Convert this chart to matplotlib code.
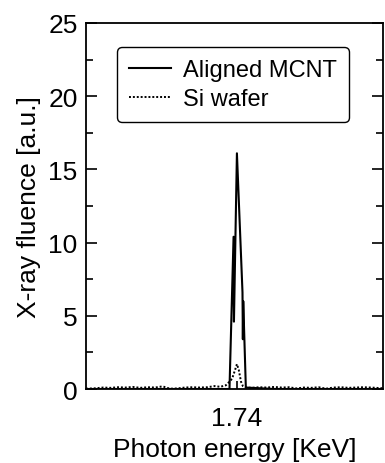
import matplotlib.pyplot as plt
from matplotlib.ticker import MultipleLocator, FixedLocator

plt.rcParams['font.family'] = ['Liberation Sans', 'DejaVu Sans']

# Aligned MCNT spectrum (photon energy in keV, fluence in a.u.)
mcnt_energy = [1.6994, 1.7000, 1.7100, 1.7200, 1.7300, 1.7380, 1.7391, 1.7392,
               1.7400, 1.7415, 1.7416, 1.7417, 1.7424, 1.7500, 1.7600, 1.7700, 1.7793]
mcnt_fluence = [0.0, 0.0, 0.0, 0.0, 0.0, 0.0, 10.4, 4.6,
                16.1, 6.6, 3.4, 6.0, 0.1, 0.0, 0.0, 0.0, 0.0]

# Si wafer spectrum
si_energy = [1.6994, 1.7020, 1.7040, 1.7060, 1.7080, 1.7100, 1.7120, 1.7140,
             1.7160, 1.7180, 1.7200, 1.7220, 1.7240, 1.7260, 1.7280, 1.7300,
             1.7320, 1.7340, 1.7355, 1.7370, 1.7378, 1.7387, 1.7395, 1.7400,
             1.7405, 1.7411, 1.7416, 1.7424, 1.7440, 1.7460, 1.7480, 1.7500,
             1.7520, 1.7540, 1.7560, 1.7580, 1.7600, 1.7620, 1.7640, 1.7660,
             1.7680, 1.7700, 1.7720, 1.7740, 1.7760, 1.7793]
si_fluence = [0.02, 0.05, 0.10, 0.08, 0.12, 0.10, 0.14, 0.08,
              0.12, 0.10, 0.18, 0.02, 0.04, 0.10, 0.12, 0.10,
              0.12, 0.20, 0.15, 0.25, 0.45, 0.70, 1.30, 1.70,
              1.30, 0.50, 0.20, 0.10, 0.08, 0.12, 0.10, 0.14,
              0.10, 0.12, 0.04, 0.10, 0.08, 0.12, 0.02, 0.10,
              0.12, 0.08, 0.10, 0.12, 0.10, 0.05]

y_ticks = [0, 5, 10, 15, 20, 25]
x_ticks = [1.74]
x_tick_labels = ['1.74']

fig = plt.figure(figsize=(3.85, 4.64), dpi=100)
ax = fig.add_axes([86 / 385, 1 - 390 / 464, 297 / 385, 366 / 464])

ax.plot(mcnt_energy, mcnt_fluence, color='black', lw=1.5, label='Aligned MCNT')
ax.plot(si_energy, si_fluence, color='black', lw=1.4, ls=(0, (1, 1)), label='Si wafer')

ax.set_xlim(1.6994, 1.7793)
ax.set_ylim(0, 25)
ax.yaxis.set_major_locator(FixedLocator(y_ticks))
ax.yaxis.set_minor_locator(MultipleLocator(2.5))
ax.xaxis.set_major_locator(FixedLocator(x_ticks))
ax.set_xticklabels(x_tick_labels)

ax.tick_params(axis='both', which='both', direction='in', labelsize=19,
               right=True, width=1.2)
ax.tick_params(axis='y', which='major', length=8, pad=6)
ax.tick_params(axis='y', which='minor', length=5)
ax.tick_params(axis='x', which='major', length=6, pad=12)
for s in ax.spines.values():
    s.set_linewidth(1.3)

ax.set_xlabel('Photon energy [KeV]', fontsize=19, labelpad=5)
ax.set_ylabel('X-ray fluence [a.u.]', fontsize=19, labelpad=5)

leg = ax.legend(loc='upper left', bbox_to_anchor=(0.104, 0.934), borderaxespad=0,
                fontsize=17, frameon=True, fancybox=True, edgecolor='black',
                framealpha=1, handlelength=1.8, handletextpad=0.5,
                borderpad=0.5, labelspacing=0.3)
leg.get_frame().set_linewidth(1.0)

plt.savefig('out.png', dpi=100)
plt.close()
